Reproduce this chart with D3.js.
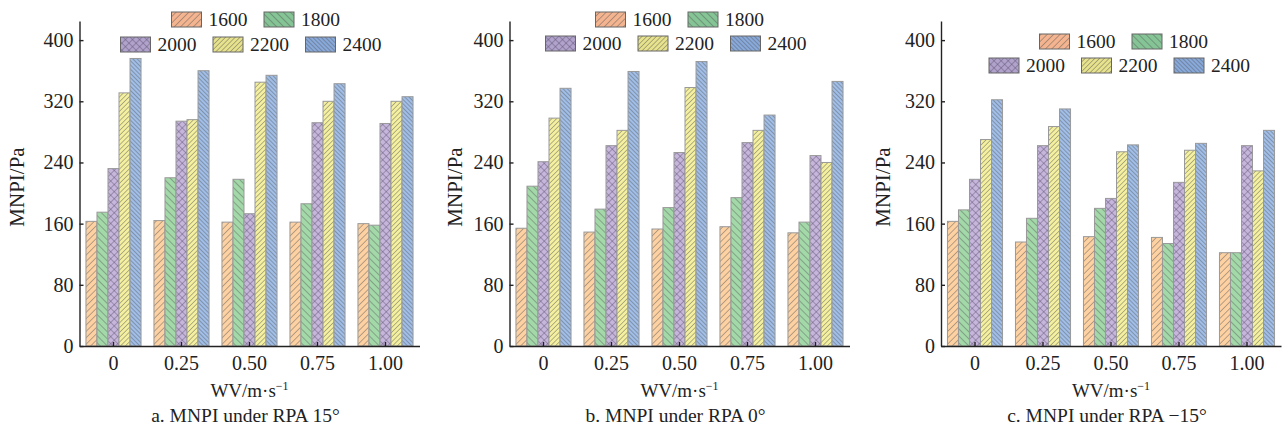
<!DOCTYPE html>
<html><head><meta charset="utf-8">
<script src="https://cdn.jsdelivr.net/npm/d3@7"></script>
<style>
body{margin:0;background:#fff;}
svg text{font-family:"Liberation Serif","Times New Roman",Times,serif !important;fill:#222;}
</style></head>
<body><svg id="c" width="1284" height="436"></svg>
<script>
const categories = ["0","0.25","0.50","0.75","1.00"];
const seriesNames = ["1600","1800","2000","2200","2400"];
const yTicks = [0,80,160,240,320,400];
const panelTitles = ["a. MNPI under RPA 15°","b. MNPI under RPA 0°","c. MNPI under RPA \u221215°"];
const xLabel = "WV/m·s";
const yLabel = "MNPI/Pa";
// values per series (rows: 1600,1800,2000,2200,2400; columns: categories)
const rpa15 = [
  [163,164,162,162,160],
  [175,220,218,186,158],
  [232,294,173,292,291],
  [331,296,345,320,320],
  [376,360,354,343,326]
];
const rpa0 = [
  [154,149,153,156,148],
  [209,179,181,194,162],
  [241,262,253,266,249],
  [298,282,338,282,240],
  [337,359,372,302,346]
];
const rpaNeg15 = [
  [163,136,143,142,122],
  [178,167,180,134,122],
  [218,262,193,214,262],
  [270,287,254,256,229],
  [322,310,263,265,282]
];

const FONT = "Liberation Serif";
const barFill = ["#fdd1a2","#a3d8a9","#c7b6dc","#f4f0a0","#a0bee8"];
const legFill = ["#f3b48f","#84c495","#b1a2cc","#e7e28c","#88a9db"];
const hatch = [{a:45,s:4.5},{a:-45,s:5},{a:0,s:5,x:true},{a:45,s:3.4},{a:-45,s:3}];

const panels = [
  {data:rpa15, ax:79.5, ylx:17, leg:{r1x:92,r2x:41,y1:12,y2:37}},
  {data:rpa0, ax:509.5, ylx:455, leg:{r1x:86,r2x:36,y1:12,y2:36}},
  {data:rpaNeg15, ax:941, ylx:883, leg:{r1x:98.5,r2x:48,y1:34,y2:58}}
];

const svg = d3.select("#c");
const defs = svg.append("defs");
function mkPattern(id, i, fill){
  const h = hatch[i];
  const p = defs.append("pattern").attr("id",id).attr("patternUnits","userSpaceOnUse")
    .attr("width",h.s).attr("height",h.s);
  if(h.x){
    p.attr("width",5).attr("height",5).attr("patternTransform","rotate(45)");
    p.append("rect").attr("width",5).attr("height",5).attr("fill",fill);
    p.append("line").attr("x1",0).attr("y1",0).attr("x2",0).attr("y2",5).attr("stroke","#5e5570").attr("stroke-width",0.9);
    p.append("line").attr("x1",0).attr("y1",0).attr("x2",5).attr("y2",0).attr("stroke","#5e5570").attr("stroke-width",0.9);
  } else {
    p.attr("patternTransform","rotate("+h.a+")");
    p.append("rect").attr("width",h.s).attr("height",h.s).attr("fill",fill);
    p.append("line").attr("x1",0).attr("y1",0).attr("x2",0).attr("y2",h.s).attr("stroke","#555").attr("stroke-width",0.85);
  }
}
seriesNames.forEach((s,i)=>{ mkPattern("bar"+i,i,barFill[i]); mkPattern("leg"+i,i,legFill[i]); });

const W = 340, y0 = 346, yTop = 21;
const y = d3.scaleLinear().domain([0,425]).range([y0,yTop]);

panels.forEach((P,pi)=>{
  const g = svg.append("g").attr("transform","translate("+P.ax+",0)");
  const x0 = d3.scaleBand().domain(categories).range([0,W]).paddingInner(0.19).paddingOuter(0.095);
  const x1 = d3.scaleBand().domain(seriesNames).range([0,x0.bandwidth()]);
  // bars
  categories.forEach((c,ci)=>{
    const gg = g.append("g").attr("transform","translate("+x0(c)+",0)");
    gg.selectAll("rect").data(seriesNames.map((s,si)=>({s,si,v:P.data[si][ci]})))
      .join("rect")
      .attr("x",d=>x1(d.s)).attr("width",x1.bandwidth())
      .attr("y",d=>y(d.v)).attr("height",d=>y0-y(d.v))
      .attr("fill",d=>"url(#bar"+d.si+")").attr("stroke","#999").attr("stroke-width",1);
  });
  // axes
  const ya = g.append("g").call(d3.axisLeft(y).tickValues(yTicks).tickSizeInner(-4).tickSizeOuter(0).tickPadding(6));
  const xa = g.append("g").attr("transform","translate(0,"+y0+")")
    .call(d3.axisBottom(x0).tickSizeInner(-4).tickSizeOuter(0).tickPadding(10));
  [ya,xa].forEach(a=>{
    a.attr("font-family",FONT).attr("font-size",20);
    a.selectAll("path,line").attr("stroke","#222").attr("stroke-width",1.4);
    a.selectAll("text").attr("font-size",20).attr("font-family",FONT).attr("fill","#222");
  });
  // x label
  const xl = g.append("text").attr("x",W/2).attr("y",397).attr("text-anchor","middle")
    .attr("font-family",FONT).attr("font-size",19);
  xl.append("tspan").text(xLabel);
  xl.append("tspan").attr("dy",-7).attr("font-size",12).text("\u22121");
  // title
  g.append("text").attr("x",W/2-4).attr("y",422).attr("text-anchor","middle")
    .attr("font-family",FONT).attr("font-size",19.5).text(panelTitles[pi]);
  // y label
  svg.append("text").attr("transform","translate("+P.ylx+",187) rotate(-90)")
    .attr("text-anchor","middle").attr("dy","0.35em").attr("font-family",FONT).attr("font-size",21).text(yLabel);
  // legend
  const items = seriesNames.map((s,i)=>{
    const row = i<2?0:1; const k = i<2?i:i-2;
    return {s,i,x:(row===0?P.leg.r1x:P.leg.r2x)+k*92.5, y:row===0?P.leg.y1:P.leg.y2};
  });
  const lg = g.append("g");
  lg.selectAll("rect").data(items).join("rect")
    .attr("x",d=>d.x).attr("y",d=>d.y).attr("width",30).attr("height",15)
    .attr("fill",d=>"url(#leg"+d.i+")").attr("stroke","#666").attr("stroke-width",1);
  lg.selectAll("text").data(items).join("text")
    .attr("x",d=>d.x+37).attr("y",d=>d.y+7.5).attr("dy","0.35em")
    .attr("font-family",FONT).attr("font-size",19.5).text(d=>d.s);
});
</script></body></html>
